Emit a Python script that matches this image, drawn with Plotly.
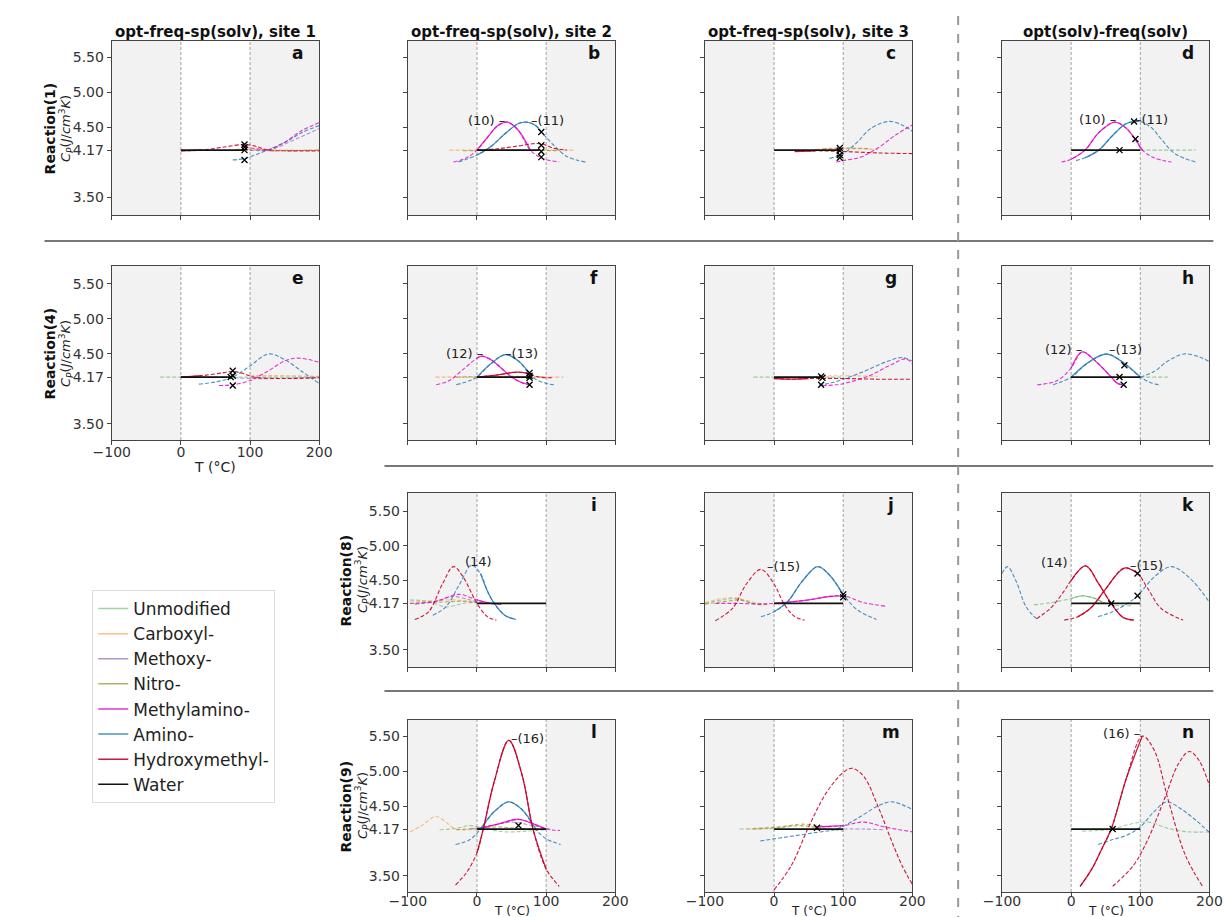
import plotly.graph_objects as go

W, H = 1231, 917

# ---------------- data ----------------
SERIES = ["Unmodified", "Carboxyl-", "Methoxy-", "Nitro-", "Methylamino-",
          "Amino-", "Hydroxymethyl-", "Water"]
COL_TITLES = ["opt-freq-sp(solv), site 1", "opt-freq-sp(solv), site 2",
              "opt-freq-sp(solv), site 3", "opt(solv)-freq(solv)"]
REACTIONS = ["Reaction(1)", "Reaction(4)", "Reaction(8)", "Reaction(9)"]
Y_TICKS = [3.5, 4.17, 4.5, 5.0, 5.5]
Y_TICK_TEXT = ["3.50", "4.17", "4.50", "5.00", "5.50"]
X_TICKS = [-100, 0, 100, 200]
X_TICK_TEXT = ["\u2212100", "0", "100", "200"]
WATER_CP = 4.17

# each curve: (series, T values, Cp values, solid T-range or None)
CURVES_A = [
    ("Carboxyl-", [80, 100, 150, 200], [4.18, 4.18, 4.17, 4.17], None),
    ("Nitro-", [90, 130, 200], [4.17, 4.16, 4.17], None),
    ("Methoxy-", [100, 130, 160, 200], [4.17, 4.18, 4.30, 4.48], None),
    ("Amino-", [75, 92, 110, 125, 150, 175, 200], [4.03, 4.05, 4.11, 4.17, 4.28, 4.42, 4.52], None),
    ("Methylamino-", [92, 110, 125, 150, 175, 200], [4.21, 4.19, 4.17, 4.28, 4.45, 4.56], None),
    ("Hydroxymethyl-", [0, 30, 60, 92, 110, 125, 150, 200], [4.16, 4.17, 4.21, 4.25, 4.22, 4.17, 4.16, 4.16], (0, 30)),
]
WATER_A = [0, 92]
MARKS_A = ([92, 92, 92, 92], [4.25, 4.21, 4.17, 4.03])
LABELS_A = []

CURVES_B = [
    ("Carboxyl-", [-40, 0, 50, 100, 140], [4.17, 4.17, 4.17, 4.17, 4.17], None),
    ("Nitro-", [-20, 50, 120], [4.16, 4.17, 4.16], None),
    ("Methylamino-", [-34, -15, 0, 15, 30, 44, 60, 77, 95, 119],
     [4.00, 4.06, 4.17, 4.35, 4.52, 4.57, 4.45, 4.17, 4.05, 4.00], (0, 77)),
    ("Amino-", [-27, 0, 20, 40, 60, 72, 85, 93, 110, 130, 157],
     [4.00, 4.10, 4.22, 4.40, 4.55, 4.57, 4.52, 4.43, 4.25, 4.08, 4.00], (0, 93)),
    ("Hydroxymethyl-", [0, 30, 60, 80, 93, 110, 130], [4.17, 4.19, 4.23, 4.26, 4.26, 4.20, 4.17], None),
]
WATER_B = [0, 90]
MARKS_B = ([93, 93, 93, 93], [4.43, 4.24, 4.15, 4.07])
LABELS_B = [("(10) \u2013", 44, 4.60, "right"), ("\u2013(11)", 75, 4.60, "left")]

CURVES_C = [
    ("Carboxyl-", [60, 100, 150], [4.18, 4.19, 4.18], None),
    ("Nitro-", [70, 100, 140], [4.19, 4.20, 4.19], None),
    ("Amino-", [80, 100, 120, 140, 166, 185, 200], [4.05, 4.12, 4.28, 4.48, 4.58, 4.53, 4.44], None),
    ("Methylamino-", [90, 100, 125, 150, 175, 200], [4.00, 4.02, 4.07, 4.20, 4.38, 4.53], None),
    ("Hydroxymethyl-", [30, 60, 100, 150, 200], [4.15, 4.16, 4.15, 4.13, 4.12], (30, 60)),
]
WATER_C = [0, 95]
MARKS_C = ([95, 95, 95, 95], [4.20, 4.16, 4.10, 4.06])
LABELS_C = []

CURVES_D = [
    ("Unmodified", [100, 130, 180], [4.17, 4.17, 4.17], None),
    ("Methylamino-", [-14, 0, 20, 40, 63, 80, 93, 103, 120, 145],
     [4.00, 4.04, 4.17, 4.42, 4.57, 4.48, 4.32, 4.17, 4.06, 4.00], (0, 103)),
    ("Amino-", [7, 20, 40, 60, 80, 99, 115, 130, 150, 180],
     [4.02, 4.06, 4.17, 4.38, 4.55, 4.58, 4.50, 4.33, 4.12, 4.00], (20, 99)),
]
WATER_D = [0, 100]
MARKS_D = ([70, 93, 91], [4.17, 4.33, 4.58])
LABELS_D = [("(10) \u2013", 68, 4.61, "right"), ("\u2013(11)", 89, 4.61, "left")]

CURVES_E = [
    ("Unmodified", [-30, 0, 100, 200], [4.17, 4.17, 4.17, 4.17], None),
    ("Carboxyl-", [100, 150, 200], [4.19, 4.19, 4.18], None),
    ("Methoxy-", [60, 100, 140, 200], [4.17, 4.15, 4.15, 4.17], None),
    ("Amino-", [26, 50, 75, 100, 127, 150, 175, 200], [4.07, 4.10, 4.17, 4.33, 4.50, 4.42, 4.25, 4.08], None),
    ("Methylamino-", [55, 75, 100, 125, 150, 167, 185, 200], [4.05, 4.06, 4.12, 4.25, 4.40, 4.44, 4.42, 4.38], None),
    ("Hydroxymethyl-", [0, 30, 60, 75, 90, 105, 150, 200], [4.17, 4.19, 4.23, 4.25, 4.22, 4.17, 4.15, 4.16], (0, 30)),
]
WATER_E = [0, 73]
MARKS_E = ([75, 75, 72, 75], [4.26, 4.19, 4.17, 4.05])
LABELS_E = []

CURVES_F = [
    ("Carboxyl-", [-60, 0, 60, 125], [4.17, 4.17, 4.17, 4.17], None),
    ("Nitro-", [-30, 50, 100], [4.17, 4.18, 4.17], None),
    ("Methylamino-", [-59, -40, -20, 0, 7, 20, 35, 50, 65, 77],
     [4.06, 4.12, 4.28, 4.44, 4.47, 4.42, 4.30, 4.17, 4.09, 4.06], (0, 77)),
    ("Amino-", [-30, -10, 0, 20, 41, 60, 80, 100, 114],
     [4.06, 4.12, 4.17, 4.36, 4.49, 4.40, 4.17, 4.08, 4.06], (0, 80)),
    ("Hydroxymethyl-", [0, 30, 57, 75, 90, 110], [4.17, 4.20, 4.24, 4.22, 4.17, 4.16], (0, 75)),
]
WATER_F = [0, 76]
MARKS_F = ([76, 76, 76, 76], [4.23, 4.19, 4.16, 4.06])
LABELS_F = [("(12) \u2013", 11, 4.50, "right"), ("\u2013(13)", 37, 4.50, "left")]

CURVES_G = [
    ("Unmodified", [-30, 0, 50, 100], [4.17, 4.17, 4.17, 4.17], None),
    ("Carboxyl-", [60, 100, 150], [4.18, 4.19, 4.18], None),
    ("Amino-", [65, 80, 100, 130, 160, 185, 200], [4.06, 4.08, 4.14, 4.25, 4.38, 4.45, 4.40], None),
    ("Methylamino-", [70, 90, 110, 140, 170, 190, 200], [4.05, 4.06, 4.10, 4.20, 4.35, 4.43, 4.36], None),
    ("Hydroxymethyl-", [0, 25, 50, 100, 150, 200], [4.15, 4.14, 4.15, 4.15, 4.14, 4.14], (0, 50)),
]
WATER_G = [0, 70]
MARKS_G = ([68, 70, 68], [4.18, 4.16, 4.06])
LABELS_G = []

CURVES_H = [
    ("Unmodified", [100, 140], [4.17, 4.17], None),
    ("Methylamino-", [-49, -20, 0, 16, 35, 58, 67, 75],
     [4.06, 4.12, 4.30, 4.53, 4.40, 4.17, 4.08, 4.06], (0, 75)),
    ("Amino-", [-26, 0, 25, 51, 75, 100, 115, 128],
     [4.06, 4.17, 4.38, 4.50, 4.38, 4.17, 4.09, 4.06], (0, 100)),
    ("Amino-", [100, 120, 140, 163, 185, 200], [4.17, 4.25, 4.40, 4.50, 4.46, 4.39], None),
]
WATER_H = [0, 100]
MARKS_H = ([77, 70, 76], [4.34, 4.17, 4.06])
LABELS_H = [("(12) \u2013", 18, 4.56, "right"), ("\u2013(13)", 52, 4.56, "left")]

CURVES_I = [
    ("Unmodified", [-97, -70, -45, -20, 0], [4.22, 4.20, 4.12, 4.17, 4.19], None),
    ("Carboxyl-", [-97, -60, -30, 0], [4.19, 4.21, 4.22, 4.18], None),
    ("Nitro-", [-90, -50, -20, 0], [4.17, 4.19, 4.20, 4.18], None),
    ("Methoxy-", [-90, -60, -35, -10, 10], [4.16, 4.20, 4.27, 4.22, 4.17], None),
    ("Methylamino-", [-97, -60, -26, 0, 20, 35], [4.17, 4.20, 4.30, 4.22, 4.17, 4.16], (0, 35)),
    ("Hydroxymethyl-", [-90, -70, -50, -34, -20, 0, 15, 28], [3.94, 4.05, 4.45, 4.70, 4.55, 4.17, 3.98, 3.93], None),
    ("Amino-", [-64, -45, -25, -8, 5, 15, 25, 40, 56], [4.00, 4.12, 4.45, 4.72, 4.60, 4.35, 4.17, 4.00, 3.94], (5, 56)),
]
WATER_I = [0, 100]
MARKS_I = ([], [])
LABELS_I = [("(14)", 2, 4.77, "center")]

CURVES_J = [
    ("Unmodified", [-100, -75, -55, -35, -15], [4.17, 4.22, 4.24, 4.18, 4.14], None),
    ("Carboxyl-", [-100, -75, -55, -35, -10], [4.18, 4.24, 4.25, 4.20, 4.15], None),
    ("Nitro-", [-100, -70, -50, -30, -10], [4.16, 4.20, 4.22, 4.17, 4.16], None),
    ("Methylamino-", [-85, -50, -20, 0, 50, 80, 100, 130, 162],
     [4.17, 4.17, 4.16, 4.17, 4.22, 4.27, 4.28, 4.18, 4.13], (0, 100)),
    ("Hydroxymethyl-", [-85, -60, -40, -19, 0, 14, 30, 44], [3.92, 4.10, 4.45, 4.66, 4.45, 4.17, 3.98, 3.93], None),
    ("Amino-", [-19, 0, 20, 40, 63, 80, 100, 120, 148],
     [3.98, 4.05, 4.20, 4.48, 4.70, 4.58, 4.30, 4.08, 3.94], (0, 100)),
]
WATER_J = [0, 100]
MARKS_J = ([100, 100], [4.30, 4.26])
LABELS_J = [("\u2013(15)", -13, 4.70, "left")]

CURVES_K = [
    ("Unmodified", [-54, -30, 0, 16, 35, 49, 70, 90], [4.15, 4.18, 4.24, 4.28, 4.24, 4.17, 4.14, 4.14], (0, 49)),
    ("Amino-", [-100, -92, -80, -65, -50], [4.60, 4.70, 4.50, 4.12, 3.95], None),
    ("Amino-", [39, 60, 80, 96, 120, 145, 170, 200], [3.98, 4.05, 4.16, 4.28, 4.55, 4.70, 4.55, 4.19], None),
    ("Hydroxymethyl-", [-50, -30, -10, 0, 21, 40, 58, 75, 91],
     [3.95, 4.10, 4.35, 4.50, 4.71, 4.45, 4.17, 3.97, 3.93], (0, 91)),
    ("Hydroxymethyl-", [-10, 10, 30, 50, 77, 96, 110, 130, 162],
     [3.93, 3.98, 4.12, 4.38, 4.68, 4.60, 4.40, 4.10, 3.93], (10, 96)),
]
WATER_K = [0, 100]
MARKS_K = ([96, 96, 58], [4.60, 4.28, 4.17])
LABELS_K = [("(14)", -1, 4.76, "right"), ("\u2013(15)", 82, 4.72, "left")]

CURVES_L = [
    ("Unmodified", [-54, -30, -10, 10, 40, 70, 100], [4.16, 4.18, 4.22, 4.18, 4.13, 4.14, 4.16], None),
    ("Carboxyl-", [-97, -80, -59, -45, -31, -10, 10], [4.13, 4.22, 4.35, 4.27, 4.17, 4.16, 4.17], None),
    ("Nitro-", [-30, 0, 30, 60, 90], [4.16, 4.18, 4.20, 4.18, 4.16], None),
    ("Methoxy-", [-10, 20, 50, 80, 110], [4.17, 4.22, 4.27, 4.22, 4.16], None),
    ("Methylamino-", [0, 30, 60, 80, 100, 120], [4.17, 4.24, 4.31, 4.25, 4.17, 4.15], (0, 100)),
    ("Amino-", [-31, -10, 5, 25, 46, 65, 85, 100, 121],
     [3.95, 4.02, 4.17, 4.42, 4.56, 4.45, 4.17, 4.03, 3.95], (5, 85)),
    ("Hydroxymethyl-", [-31, -15, 0, 9, 25, 46, 65, 81, 100, 119],
     [3.37, 3.55, 3.83, 4.17, 4.85, 5.44, 4.95, 4.17, 3.60, 3.35], (0, 100)),
]
WATER_L = [0, 100]
MARKS_L = ([60], [4.22])
LABELS_L = [("\u2013(16)", 46, 5.46, "left")]

CURVES_M = [
    ("Unmodified", [-50, 0, 40, 70, 100], [4.17, 4.18, 4.22, 4.18, 4.14], None),
    ("Carboxyl-", [-40, 0, 30, 60], [4.17, 4.20, 4.22, 4.19], None),
    ("Nitro-", [-30, 10, 40, 80], [4.17, 4.20, 4.24, 4.20], None),
    ("Methoxy-", [100, 130, 160], [4.17, 4.17, 4.16], None),
    ("Amino-", [-20, 20, 60, 90, 120, 150, 169, 185, 200], [4.00, 4.06, 4.12, 4.17, 4.32, 4.50, 4.56, 4.52, 4.45], None),
    ("Methylamino-", [60, 100, 130, 160, 200], [4.20, 4.22, 4.27, 4.20, 4.13], (60, 100)),
    ("Hydroxymethyl-", [0, 25, 50, 75, 100, 113, 130, 150, 170, 185, 200],
     [3.30, 3.65, 4.20, 4.68, 4.98, 5.04, 4.92, 4.50, 4.00, 3.65, 3.38], None),
]
WATER_M = [0, 100]
MARKS_M = ([62], [4.19])
LABELS_M = []

CURVES_N = [
    ("Unmodified", [16, 40, 60, 85, 112, 140, 170, 200], [4.14, 4.15, 4.17, 4.24, 4.27, 4.18, 4.13, 4.13], None),
    ("Amino-", [39, 60, 80, 100, 120, 138, 160, 180, 200], [3.95, 4.02, 4.08, 4.20, 4.42, 4.56, 4.45, 4.30, 4.12], None),
    ("Hydroxymethyl-", [13, 30, 45, 58, 80, 103, 120, 140, 165, 190],
     [3.35, 3.60, 3.90, 4.17, 4.90, 5.50, 5.30, 4.60, 3.80, 3.35], (13, 103)),
    ("Hydroxymethyl-", [60, 90, 110, 135, 155, 171, 185, 200], [3.35, 3.65, 4.00, 4.60, 5.10, 5.28, 5.15, 4.79], None),
]
WATER_N = [0, 100]
MARKS_N = ([60], [4.17])
LABELS_N = [("(16) \u2013", 103, 5.54, "right")]

# ---------------- style / layout ----------------
COLORS = {
    "Unmodified": "rgba(44,160,44,0.45)",
    "Carboxyl-": "rgba(255,127,14,0.5)",
    "Methoxy-": "rgba(148,103,189,0.7)",
    "Nitro-": "rgba(128,128,0,0.6)",
    "Methylamino-": "rgba(225,0,200,0.8)",
    "Amino-": "rgba(31,119,180,0.8)",
    "Hydroxymethyl-": "rgba(200,0,40,0.9)",
    "Water": "#111111",
}
COL_PX = [(87, 300), (391, 604), (696, 909), (1001, 1214)]
ROW_PX = [(33, 207), (258, 432), (485, 659), (712, 884)]
ROW_YR = [(3.243, 5.729), (3.271, 5.757), (3.255, 5.76), (3.27, 5.73)]
XTITLE_OFFSET = [27, 27, 27, 19]
XTICK_STANDOFF = [-5, -5, -5, -8]
XTITLE_SIZE = [14, 14, 14, 12]

PANELS = [
    ("a", 0, 0, CURVES_A, WATER_A, MARKS_A, LABELS_A),
    ("b", 1, 0, CURVES_B, WATER_B, MARKS_B, LABELS_B),
    ("c", 2, 0, CURVES_C, WATER_C, MARKS_C, LABELS_C),
    ("d", 3, 0, CURVES_D, WATER_D, MARKS_D, LABELS_D),
    ("e", 0, 1, CURVES_E, WATER_E, MARKS_E, LABELS_E),
    ("f", 1, 1, CURVES_F, WATER_F, MARKS_F, LABELS_F),
    ("g", 2, 1, CURVES_G, WATER_G, MARKS_G, LABELS_G),
    ("h", 3, 1, CURVES_H, WATER_H, MARKS_H, LABELS_H),
    ("i", 1, 2, CURVES_I, WATER_I, MARKS_I, LABELS_I),
    ("j", 2, 2, CURVES_J, WATER_J, MARKS_J, LABELS_J),
    ("k", 3, 2, CURVES_K, WATER_K, MARKS_K, LABELS_K),
    ("l", 1, 3, CURVES_L, WATER_L, MARKS_L, LABELS_L),
    ("m", 2, 3, CURVES_M, WATER_M, MARKS_M, LABELS_M),
    ("n", 3, 3, CURVES_N, WATER_N, MARKS_N, LABELS_N),
]
X_LABELED = {"e", "l", "m", "n"}
Y_LABELED = {"a", "e", "i", "l"}

FONT = "DejaVu Sans"
fig = go.Figure()
layout = {}
shapes = []
annotations = []


def px_x(p):
    return p / W


def px_y(p):
    return 1 - p / H


for k, (letter, col, row, curves, water, marks, labels) in enumerate(PANELS, start=1):
    xa = "x" if k == 1 else f"x{k}"
    ya = "y" if k == 1 else f"y{k}"
    xkey = "xaxis" if k == 1 else f"xaxis{k}"
    ykey = "yaxis" if k == 1 else f"yaxis{k}"
    left, right = COL_PX[col]
    top, bottom = ROW_PX[row]
    common = dict(showline=True, linecolor="#444", linewidth=1, mirror=True,
                  showgrid=False, zeroline=False, ticks="outside", ticklen=4,
                  tickcolor="#444", tickfont=dict(size=14, color="#333", family=FONT))
    layout[xkey] = dict(domain=[px_x(left), px_x(right)], range=[-100, 200], anchor=ya,
                        tickvals=X_TICKS, ticktext=X_TICK_TEXT,
                        ticklabelstandoff=XTICK_STANDOFF[row],
                        showticklabels=letter in X_LABELED, **common)
    layout[ykey] = dict(domain=[px_y(bottom), px_y(top)], range=list(ROW_YR[row]), anchor=xa,
                        tickvals=Y_TICKS, ticktext=Y_TICK_TEXT,
                        showticklabels=letter in Y_LABELED, **common)
    # shaded out-of-range bands and dashed bounds
    for x0, x1 in [(-100, 0), (100, 200)]:
        shapes.append(dict(type="rect", xref=xa, yref=f"{ya} domain", x0=x0, x1=x1, y0=0, y1=1,
                           fillcolor="#f2f2f2", line=dict(width=0), layer="below"))
    for xv in [0, 100]:
        shapes.append(dict(type="line", xref=xa, yref=f"{ya} domain", x0=xv, x1=xv, y0=0, y1=1,
                           line=dict(color="#a0a0a0", width=1, dash="3px,2px"), layer="below"))
    # curves
    for name, xs, ys, solid in curves:
        fig.add_trace(go.Scatter(x=xs, y=ys, mode="lines", xaxis=xa, yaxis=ya,
                                 line=dict(color=COLORS[name], width=1.1, dash="4px,2px",
                                           shape="spline", smoothing=1.0),
                                 showlegend=False, hoverinfo="skip"))
        if solid:
            lo, hi = solid
            pts = [(x, y) for x, y in zip(xs, ys) if lo <= x <= hi]
            if len(pts) >= 2:
                fig.add_trace(go.Scatter(x=[p[0] for p in pts], y=[p[1] for p in pts],
                                         mode="lines", xaxis=xa, yaxis=ya,
                                         line=dict(color=COLORS[name], width=1.3,
                                                   shape="spline", smoothing=1.0),
                                         showlegend=False, hoverinfo="skip"))
    # water reference
    fig.add_trace(go.Scatter(x=water, y=[WATER_CP] * len(water), mode="lines", xaxis=xa, yaxis=ya,
                             line=dict(color=COLORS["Water"], width=1.8),
                             showlegend=False, hoverinfo="skip"))
    if marks[0]:
        fig.add_trace(go.Scatter(x=marks[0], y=marks[1], mode="markers", xaxis=xa, yaxis=ya,
                                 marker=dict(symbol="x-thin", size=6, color="black",
                                             line=dict(color="black", width=1.3)),
                                 showlegend=False, hoverinfo="skip"))
    for text, lx, ly, anc in labels:
        annotations.append(dict(text=text, x=lx, y=ly, xref=xa, yref=ya, showarrow=False,
                                xanchor=anc, yanchor="middle",
                                font=dict(size=13, color="#222", family=FONT)))
    # panel letter
    annotations.append(dict(text=f"<b>{letter}</b>", x=px_x(right - 22), y=px_y(top + 12),
                            xref="paper", yref="paper", showarrow=False,
                            xanchor="center", yanchor="middle",
                            font=dict(size=17, color="#111", family=FONT)))
    if letter in X_LABELED:
        annotations.append(dict(text="T (\u00b0C)", x=px_x((left + right) / 2),
                                y=px_y(bottom + XTITLE_OFFSET[row]), xref="paper", yref="paper",
                                showarrow=False, xanchor="center", yanchor="middle",
                                font=dict(size=XTITLE_SIZE[row], color="#222", family=FONT)))
    if letter in Y_LABELED:
        cy = px_y((top + bottom) / 2)
        annotations.append(dict(text=f"<b>{REACTIONS[row]}</b>", x=px_x(left - 63), y=cy,
                                xref="paper", yref="paper", showarrow=False, textangle=-90,
                                xanchor="center", yanchor="middle",
                                font=dict(size=14, color="#111", family=FONT)))
        annotations.append(dict(text="<i>C</i><sub><i>P</i></sub>(<i>J</i>/<i>cm</i><sup>3</sup><i>K</i>)",
                                x=px_x(left - 47), y=cy, xref="paper", yref="paper",
                                showarrow=False, textangle=-90, xanchor="center", yanchor="middle",
                                font=dict(size=13, color="#222", family=FONT)))

# column titles
for c, title in enumerate(COL_TITLES):
    l, r = COL_PX[c]
    annotations.append(dict(text=f"<b>{title}</b>", x=px_x((l + r) / 2), y=px_y(24),
                            xref="paper", yref="paper", showarrow=False,
                            xanchor="center", yanchor="middle",
                            font=dict(size=15, color="#111", family=FONT)))

# separators
shapes.append(dict(type="line", xref="paper", yref="paper", x0=px_x(18), x1=px_x(1218),
                   y0=px_y(233), y1=px_y(233), line=dict(color="#777", width=2)))
for yy in [458, 683]:
    shapes.append(dict(type="line", xref="paper", yref="paper", x0=px_x(367), x1=px_x(1218),
                       y0=px_y(yy), y1=px_y(yy), line=dict(color="#777", width=2)))
shapes.append(dict(type="line", xref="paper", yref="paper", x0=px_x(956), x1=px_x(956),
                   y0=0, y1=1, line=dict(color="#999", width=2, dash="dash")))

# legend entries
for name in SERIES:
    fig.add_trace(go.Scatter(x=[None], y=[None], mode="lines", name=name, xaxis="x", yaxis="y",
                             line=dict(color=COLORS[name], width=1.5), showlegend=True))

fig.update_layout(
    width=W, height=H, margin=dict(l=0, r=0, t=0, b=0),
    paper_bgcolor="white", plot_bgcolor="white",
    font=dict(family=FONT, color="#222"),
    shapes=shapes, annotations=annotations,
    legend=dict(x=px_x(67), y=px_y(582), xanchor="left", yanchor="top",
                font=dict(size=17, family=FONT, color="#222"),
                bgcolor="white", bordercolor="#dddddd", borderwidth=1,
                tracegroupgap=0),
    **layout,
)

fig.write_html("out.html")
